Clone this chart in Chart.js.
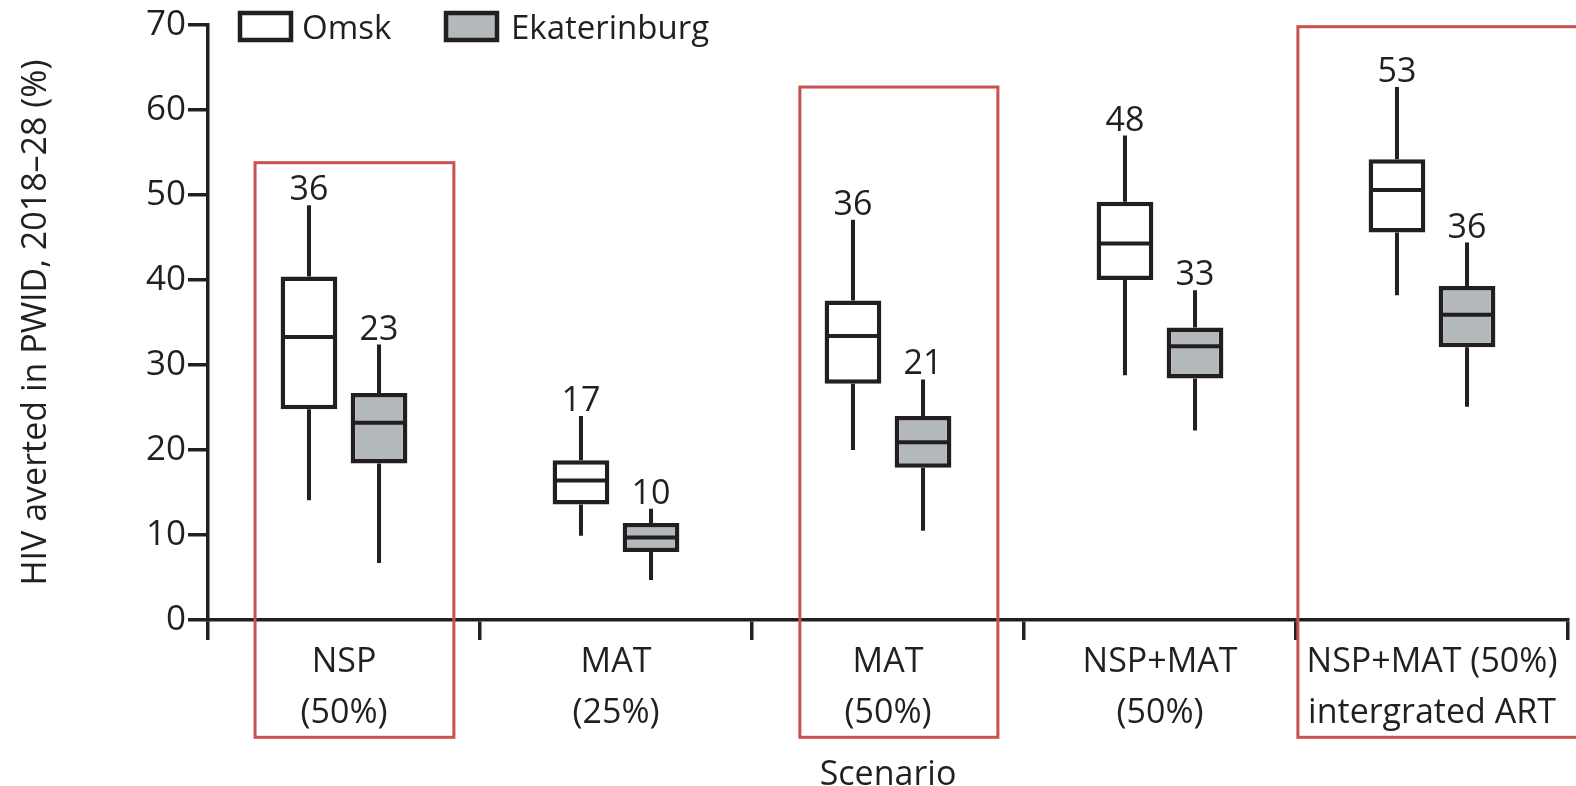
<!DOCTYPE html>
<html>
<head>
<meta charset="utf-8">
<script src="https://cdn.jsdelivr.net/npm/chart.js@4.4.1/dist/chart.umd.min.js"></script>
<style>
  html, body { margin: 0; padding: 0; background: #ffffff; }
  canvas { display: block; }
</style>
</head>
<body>
<canvas id="chart" width="1576" height="786"></canvas>
<script>
// Scenarios on the x axis (two-line labels)
const scenarios = [
  ["NSP", "(50%)"],
  ["MAT", "(25%)"],
  ["MAT", "(50%)"],
  ["NSP+MAT", "(50%)"],
  ["NSP+MAT (50%)", "intergrated ART"]
];
const cities = ["Omsk", "Ekaterinburg"];

// HIV infections averted in PWID, 2018–28 (%): box-plot summaries
const omskMin    = [14.1,  9.9, 20.0, 28.8, 38.2];
const omskQ1     = [24.8, 13.6, 27.8, 40.0, 45.6];
const omskMedian = [33.3, 16.4, 33.4, 44.3, 50.6];
const omskQ3     = [40.4, 18.8, 37.6, 49.2, 54.2];
const omskMax    = [48.8, 24.0, 47.1, 57.0, 62.7];
const omskMean   = [36, 17, 36, 48, 53];

const ekatMin    = [ 6.7,  4.7, 10.5, 22.3, 25.1];
const ekatQ1     = [18.4,  8.0, 17.9, 28.4, 32.1];
const ekatMedian = [23.2,  9.7, 20.9, 32.2, 35.9];
const ekatQ3     = [26.7, 11.4, 24.0, 34.4, 39.3];
const ekatMax    = [32.4, 13.1, 28.3, 38.8, 44.4];
const ekatMean   = [23, 10, 21, 33, 36];

const yTickValues = [0, 10, 20, 30, 40, 50, 60, 70];

// Highlighted scenarios (index, span within the category, top value)
const highlightIndex = [0, 2, 4];
const highlightFrom  = [-0.327, -0.324, -0.493];
const highlightTo    = [0.404, 0.404, 0.62];
const highlightTop   = [53.8, 62.7, 69.8];
const highlightBottom = -13.8;

const INK = '#231f20';
const GREY = '#b3b9bb';
const RED = '#c9514f';
const FONT = "'Open Sans', 'Noto Sans', sans-serif";

Chart.defaults.font.family = FONT;
Chart.defaults.color = INK;

const summaries = [
  { min: omskMin, q1: omskQ1, med: omskMedian, q3: omskQ3, max: omskMax, mean: omskMean },
  { min: ekatMin, q1: ekatQ1, med: ekatMedian, q3: ekatQ3, max: ekatMax, mean: ekatMean }
];

// Whiskers, medians and mean labels on top of the floating boxes
const boxPlotPlugin = {
  id: 'boxPlot',
  afterDatasetsDraw(chart) {
    const { ctx } = chart;
    const y = chart.scales.y;
    summaries.forEach((s, d) => {
      const meta = chart.getDatasetMeta(d);
      meta.data.forEach((el, i) => {
        const x = el.x;
        const w = el.width;
        ctx.save();
        ctx.strokeStyle = INK;
        ctx.lineCap = 'butt';
        ctx.lineWidth = 4;
        ctx.beginPath();
        ctx.moveTo(x, y.getPixelForValue(s.q3[i]));
        ctx.lineTo(x, y.getPixelForValue(s.max[i]));
        ctx.moveTo(x, y.getPixelForValue(s.q1[i]));
        ctx.lineTo(x, y.getPixelForValue(s.min[i]));
        ctx.stroke();
        ctx.beginPath();
        const ym = y.getPixelForValue(s.med[i]);
        ctx.moveTo(x - w / 2 + 2, ym);
        ctx.lineTo(x + w / 2 - 2, ym);
        ctx.stroke();
        ctx.fillStyle = INK;
        ctx.font = `34px ${FONT}`;
        ctx.textAlign = 'center';
        ctx.textBaseline = 'alphabetic';
        ctx.fillText(String(s.mean[i]), x, y.getPixelForValue(s.max[i]) - 5);
        ctx.restore();
      });
    });
  },
  afterDraw(chart) {
    const { ctx } = chart;
    const xs = chart.scales.x;
    const y = chart.scales.y;
    const catW = (xs.right - xs.left) / scenarios.length;
    ctx.save();
    ctx.strokeStyle = RED;
    ctx.lineWidth = 3;
    highlightIndex.forEach((idx, k) => {
      const c = xs.getPixelForValue(idx);
      const x0 = c + highlightFrom[k] * catW;
      const x1 = c + highlightTo[k] * catW;
      const y0 = y.getPixelForValue(highlightTop[k]);
      const y1 = y.getPixelForValue(highlightBottom);
      ctx.strokeRect(x0, y0, x1 - x0, y1 - y0);
    });
    ctx.restore();

    // Legend
    const legendBoxX = [240, 446];
    const legendTextX = [302, 511];
    ctx.save();
    chart.data.datasets.forEach((ds, i) => {
      ctx.fillStyle = ds.backgroundColor;
      ctx.strokeStyle = INK;
      ctx.lineWidth = 4.5;
      ctx.fillRect(legendBoxX[i], 13, 51, 27);
      ctx.strokeRect(legendBoxX[i], 13, 51, 27);
      ctx.fillStyle = INK;
      ctx.font = `33px ${FONT}`;
      ctx.textAlign = 'left';
      ctx.textBaseline = 'alphabetic';
      ctx.fillText(ds.label, legendTextX[i], 39);
    });
    ctx.restore();
  }
};

new Chart(document.getElementById('chart'), {
  type: 'bar',
  data: {
    labels: scenarios,
    datasets: [
      {
        label: cities[0],
        data: omskQ1.map((q, i) => [q, omskQ3[i]]),
        backgroundColor: '#ffffff',
        borderColor: INK,
        borderWidth: 4.5,
        borderSkipped: false,
        categoryPercentage: 0.515,
        barPercentage: 0.81
      },
      {
        label: cities[1],
        data: ekatQ1.map((q, i) => [q, ekatQ3[i]]),
        backgroundColor: GREY,
        borderColor: INK,
        borderWidth: 4.5,
        borderSkipped: false,
        categoryPercentage: 0.515,
        barPercentage: 0.81
      }
    ]
  },
  options: {
    responsive: false,
    animation: false,
    devicePixelRatio: 1,
    layout: { padding: { top: 25, right: 8, bottom: 0, left: 0 } },
    plugins: {
      legend: { display: false },
      tooltip: { enabled: false }
    },
    scales: {
      x: {
        grid: { offset: true, drawOnChartArea: false, drawTicks: true, tickLength: 20, lineWidth: 3.5, color: INK },
        border: { display: true, width: 3.5, color: INK },
        ticks: { padding: -3, color: INK, font: { size: 34, lineHeight: 1.5 }, maxRotation: 0, autoSkip: false },
        title: { display: true, text: 'Scenario', color: INK, font: { size: 34 }, padding: { top: 0, bottom: -10 } },
        afterFit: s => { s.height = 166; }
      },
      y: {
        min: 0,
        max: 70,
        afterBuildTicks: s => { s.ticks = yTickValues.map(v => ({ value: v })); },
        grid: { drawOnChartArea: false, drawTicks: true, tickLength: 20, lineWidth: 3.5, color: INK },
        border: { display: true, width: 3.5, color: INK },
        ticks: { padding: 2, color: INK, font: { size: 35 } },
        title: { display: true, text: 'HIV averted in PWID, 2018–28 (%)', color: INK, font: { size: 34 }, padding: { top: 16, bottom: 0 } },
        afterFit: s => { s.width = 208; }
      }
    }
  },
  plugins: [boxPlotPlugin]
});
</script>
</body>
</html>
